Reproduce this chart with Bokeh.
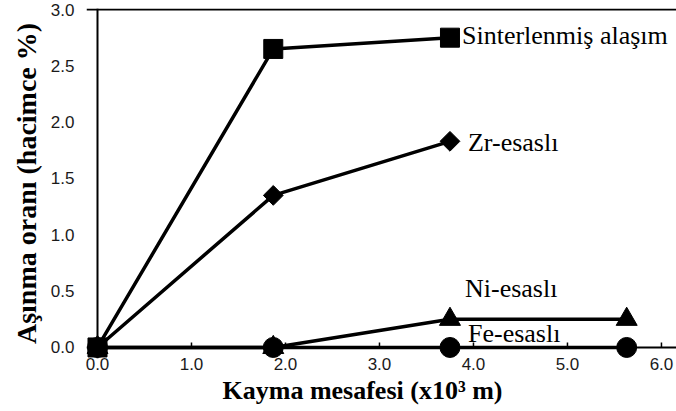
from bokeh.plotting import figure
from bokeh.models import Range1d, FixedTicker, Span, Title
from bokeh.core.properties import value
from bokeh.embed import file_html
from bokeh.resources import INLINE
import math

# Sliding distance (x10^3 m) and wear rate (volume %) for each alloy
sinter_x = [0.0, 1.87, 3.75]
sinter_y = [0.0, 2.65, 2.75]

zr_x = [0.0, 1.87, 3.75]
zr_y = [0.0, 1.35, 1.83]

ni_x = [0.0, 1.87, 3.75, 5.63]
ni_y = [0.0, 0.0, 0.25, 0.25]

fe_x = [0.0, 1.87, 3.75, 5.63]
fe_y = [0.0, 0.0, 0.0, 0.0]

series_names = ["Sinterlenmiş alaşım", "Zr-esaslı", "Ni-esaslı", "Fe-esaslı"]

x_ticks = [0, 1, 2, 3, 4, 5, 6]
x_tick_labels = ["0.0", "1.0", "2.0", "3.0", "4.0", "5.0", "6.0"]
y_ticks = [0, 0.5, 1.0, 1.5, 2.0, 2.5, 3.0]
y_tick_labels = ["0.0", "0.5", "1.0", "1.5", "2.0", "2.5", "3.0"]

x_title = "Kayma mesafesi (x10³ m)"
y_title = "Aşınma oranı (hacimce %)"

SERIF = "Liberation Serif"
SANS = "Liberation Sans"

p = figure(
    width=676, height=411,
    output_backend="svg", toolbar_location=None,
    x_range=Range1d(-0.117, 6.16),
    y_range=Range1d(-0.098, 3.009),
    min_border_left=86, min_border_right=0,
    min_border_top=8, min_border_bottom=53,
)
p.outline_line_color = None
p.grid.visible = False
p.background_fill_color = "white"
p.border_fill_color = "white"

# axes: labels only, the axis lines are drawn at zero below
p.xaxis.ticker = FixedTicker(ticks=x_ticks)
p.xaxis.major_label_overrides = {t: s for t, s in zip(x_ticks, x_tick_labels)}
p.yaxis.ticker = FixedTicker(ticks=y_ticks)
p.yaxis.major_label_overrides = {t: s for t, s in zip(y_ticks, y_tick_labels)}
for ax in (p.xaxis, p.yaxis):
    ax.axis_line_color = None
    ax.major_tick_line_color = None
    ax.minor_tick_line_color = None
    ax.major_tick_out = 0
    ax.major_tick_in = 0
    ax.major_label_text_font = SANS
    ax.major_label_text_font_size = "17px"
    ax.major_label_text_color = "#1a1a1a"
p.xaxis.major_label_standoff = -1
p.yaxis.major_label_standoff = 12

p.yaxis.axis_label = y_title
p.yaxis.axis_label_text_font = SERIF
p.yaxis.axis_label_text_font_style = "bold"
p.yaxis.axis_label_text_font_size = "28px"
p.yaxis.axis_label_text_color = "black"
p.yaxis.axis_label_standoff = 6

p.add_layout(Title(text=x_title, align="left", offset=136,
                   text_font=SERIF, text_font_style="bold",
                   text_font_size="26px", text_color="black",
                   standoff=3), "below")

# axis lines and top border
p.add_layout(Span(location=0, dimension="height", line_color="black", line_width=2))
p.add_layout(Span(location=0, dimension="width", line_color="black", line_width=2))
p.add_layout(Span(location=y_ticks[-1], dimension="width", line_color="black", line_width=2))

# small inward tick marks on the x axis
p.segment(x0=x_ticks[1:], y0=[0] * 6, x1=x_ticks[1:], y1=[0.045] * 6,
          line_color="black", line_width=1.5)

LW = 3.5
p.line(sinter_x, sinter_y, line_color="black", line_width=LW)
p.line(zr_x, zr_y, line_color="black", line_width=LW)
p.line(ni_x, ni_y, line_color="black", line_width=LW)
p.line(fe_x, fe_y, line_color="black", line_width=LW)

p.scatter(sinter_x, sinter_y, marker="square", size=19, color="black")
p.scatter(zr_x, zr_y, marker="square", angle=math.pi / 4, size=14, color="black")
p.scatter(ni_x, ni_y, marker="triangle", size=21, color="black")
p.scatter(fe_x, fe_y, marker="circle", size=20, color="black")

# series names next to the last point of each curve
label_style = dict(text_font=value(SERIF), text_font_size="26px",
                   text_color="black", text_align="left", text_baseline="middle")
p.text(x=[sinter_x[-1]], y=[sinter_y[-1]], text=[series_names[0]],
       x_offset=12, y_offset=-2, **label_style)
p.text(x=[zr_x[-1]], y=[zr_y[-1]], text=[series_names[1]],
       x_offset=18, y_offset=1, **label_style)
p.text(x=[ni_x[2]], y=[ni_y[2]], text=[series_names[2]],
       x_offset=15, y_offset=-31, **label_style)
p.text(x=[fe_x[2]], y=[fe_y[2]], text=[series_names[3]],
       x_offset=18, y_offset=-14, **label_style)

open("out.html", "w").write(file_html(p, INLINE))
